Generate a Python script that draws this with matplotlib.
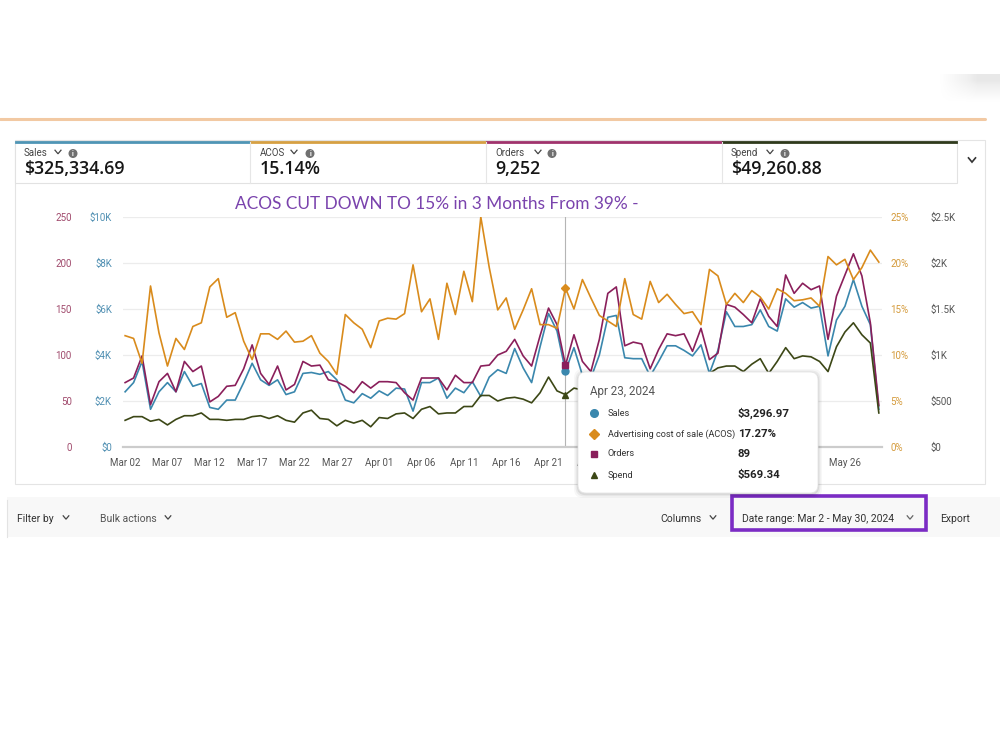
import matplotlib
matplotlib.use('Agg')
import matplotlib.pyplot as plt
import numpy as np
import pandas as pd
from matplotlib.patches import FancyBboxPatch, Rectangle, Ellipse
from matplotlib.lines import Line2D

# ---------------- data ----------------
dates = pd.date_range('2024-03-02', '2024-05-30', freq='D')

orders = [70, 75, 99, 46, 71, 80, 60, 93, 82, 88, 49, 55, 66, 67, 85, 111, 80, 68, 88, 62, 68, 93, 88,
          89, 73, 71, 66, 59, 71, 64, 71, 71, 70, 59, 51, 75, 75, 75, 62, 78, 70, 70, 88, 89,
          100, 104, 117, 99, 88, 121, 151, 133, 89, 122, 93, 82, 117, 167, 174, 110, 114, 112, 85, 106, 123, 121, 123, 104,
          129, 95, 102, 155, 152, 144, 135, 161, 142, 131, 187, 167, 178, 171, 175, 117, 164, 187, 210, 186, 135, 45]

sales = [2400, 2800, 3720, 1640, 2400, 2800, 2400, 3280, 2640, 2760, 1720, 1640, 2040, 2040, 2800, 3640, 2920, 2680, 2920, 2280, 2400, 3200, 3240,
         3160, 3280, 2920, 2040, 1920, 2320, 2120, 2440, 2240, 2560, 2520, 1560, 2800, 2800, 3000, 2120, 2560, 2360, 2840, 2200, 3040,
         3360, 3200, 4280, 3440, 2800, 4360, 5800, 5040, 3296.97, 4320, 3120, 3000, 4000, 5640, 5720, 3880, 3840, 3840, 3080, 3720, 4400, 4400, 4200, 3960,
         4440, 3200, 4200, 5880, 5240, 5240, 5320, 5960, 5240, 5040, 6440, 6080, 6280, 6040, 6120, 3960, 5520, 6120, 7280, 6120, 5320, 1640]

acos = [12.1, 11.8, 9.1, 17.5, 12.4, 8.8, 11.8, 10.6, 13.1, 13.5, 17.4, 18.3, 14.1, 14.6, 11.5, 9.5, 12.3, 12.3, 11.7, 12.6, 11.4, 11.5, 12.1,
        10.2, 9.3, 7.9, 14.4, 13.5, 12.8, 10.8, 13.7, 14.0, 13.9, 14.5, 19.8, 14.7, 16.1, 11.7, 17.8, 14.4, 19.1, 15.8, 25.0, 19.5,
        14.9, 16.2, 12.8, 14.9, 17.2, 13.3, 13.3, 12.9, 17.27, 15.0, 18.2, 16.2, 14.3, 13.7, 13.1, 18.3, 14.4, 13.9, 18.0, 15.7, 16.6, 15.5, 14.5, 14.7,
        13.3, 19.3, 18.6, 15.5, 16.7, 15.7, 17.0, 16.3, 15.0, 17.2, 16.7, 15.9, 16.0, 16.2, 15.3, 20.7, 19.8, 20.4, 18.2, 19.5, 21.4, 20.1]

spend = [290, 330, 330, 280, 300, 240, 300, 340, 340, 370, 300, 300, 290, 300, 300, 330, 340, 310, 340, 290, 270, 370, 400,
         310, 300, 230, 290, 260, 290, 220, 320, 310, 360, 370, 310, 410, 440, 360, 370, 370, 440, 440, 560, 560,
         500, 530, 540, 520, 480, 590, 760, 610, 569.34, 640, 620, 650, 700, 720, 680, 640, 700, 690, 660, 720, 750, 730, 700, 760,
         740, 800, 860, 880, 880, 820, 900, 960, 800, 930, 1080, 960, 990, 980, 930, 820, 1090, 1250, 1350, 1220, 1130, 370]

orders_ticks = [0, 50, 100, 150, 200, 250]
sales_ticks = [0, 2000, 4000, 6000, 8000, 10000]
sales_tick_labels = ['$0', '$2K', '$4K', '$6K', '$8K', '$10K']
acos_ticks = [0, 5, 10, 15, 20, 25]
acos_tick_labels = ['0%', '5%', '10%', '15%', '20%', '25%']
spend_ticks = [0, 500, 1000, 1500, 2000, 2500]
spend_tick_labels = ['$0', '$500', '$1K', '$1.5K', '$2K', '$2.5K']

card_labels = ['Sales', 'ACOS', 'Orders', 'Spend']
card_values = ['$325,334.69', '15.14%', '9,252', '$49,260.88']

hover_index = 52
tooltip_date = 'Apr 23, 2024'
tooltip_labels = ['Sales', 'Advertising cost of sale (ACOS)', 'Orders', 'Spend']
tooltip_values = ['$3,296.97', '17.27%', '89', '$569.34']

title_text = 'ACOS CUT DOWN TO 15% in 3 Months From 39% -'

# ---------------- style ----------------
C_SALES = '#3a87ad'
C_ACOS = '#d98b1c'
C_ORDERS = '#8a1f5b'
C_SPEND = '#3c4716'
FONT = ['Roboto', 'DejaVu Sans']

W, H = 1000, 750
def fx(x): return x / W
def fy(y): return 1 - y / H

fig = plt.figure(figsize=(10, 7.5), dpi=100)
fig.patch.set_facecolor('white')

# top-right faint shadow
gax = fig.add_axes([fx(940), fy(102), 60 / W, 28 / H])
gx = np.linspace(0, 1, 120)[None, :]
gy = np.linspace(1, 0, 40)[:, None]
g = np.clip(gx * 1.6, 0, 1) * np.clip(gy * 1.3, 0, 1)
gax.imshow(g, cmap='Greys', vmin=0, vmax=6, aspect='auto', interpolation='bilinear')
gax.axis('off')

# top orange rule
fig.add_artist(Line2D([0, fx(985)], [fy(119), fy(119)], color='#f2c9a3', lw=2.2, solid_capstyle='round'))

# chart panel (behind the axes)
fig.add_artist(Rectangle((fx(15), fy(484)), 970 / W, 344 / H, transform=fig.transFigure,
                         fc='white', ec='#e4e4e4', lw=0.8, zorder=-3))

# cards
fig.add_artist(Rectangle((fx(15), fy(183)), 942 / W, 42 / H, transform=fig.transFigure,
                         fc='white', ec='#e2e2e2', lw=0.8, zorder=-2))
card_x = [15, 250, 486, 722, 957]
card_bar_colors = ['#4f95b5', '#d6a043', '#a0336d', '#2f3a1c']
for i in range(4):
    fig.add_artist(Line2D([fx(card_x[i] + 1), fx(card_x[i + 1] - 1)], [fy(141.5)] * 2,
                          color=card_bar_colors[i], lw=2.0, zorder=2))
    if i > 0:
        fig.add_artist(Line2D([fx(card_x[i])] * 2, [fy(142), fy(183)], color='#e6e6e6', lw=0.8, zorder=2))

def chevron(x, y, s=3.0, color='#444444', lw=0.9):
    fig.add_artist(Line2D([fx(x - s), fx(x), fx(x + s)], [fy(y - s * 0.6), fy(y + s * 0.6), fy(y - s * 0.6)],
                          color=color, lw=lw, zorder=5, solid_joinstyle='miter'))

def info_icon(x, y):
    fig.add_artist(Ellipse((fx(x), fy(y)), 9 / W, 9 / H, transform=fig.transFigure,
                           fc='#707070', ec='none', zorder=5))
    fig.text(fx(x), fy(y), 'i', color='white', fontsize=5, fontweight='bold', ha='center', va='center',
             family=FONT, zorder=6)

label_x = [24, 260, 495, 731]
chev_x = [58, 294, 538, 770]
icon_x = [73, 310, 552, 785]
for i in range(4):
    fig.text(fx(label_x[i]), fy(153), card_labels[i], fontsize=7, color='#444444', va='center', ha='left', family=FONT)
    chevron(chev_x[i], 152)
    info_icon(icon_x[i], 153.5)
    fig.text(fx(label_x[i]), fy(169.5), card_values[i], fontsize=12.8, color='#161616', va='center', ha='left',
             fontweight='semibold', family=['Open Sans', 'DejaVu Sans'])
chevron(972, 160, s=3.5, color='#333333', lw=1.2)

# title
fig.text(fx(437), fy(204), title_text, fontsize=12.4, color='#7a43ad', ha='center', va='center',
         family=['Lato', 'DejaVu Sans'])

# ---------------- main chart ----------------
x0 = dates[0] - pd.Timedelta(hours=6)
x1 = dates[-1] + pd.Timedelta(hours=9)
pos = [fx(123), fy(447), 759 / W, 230 / H]

ax = fig.add_axes(pos)                 # sales axis (base)
ax_o = ax.twinx()                      # orders
ax_a = ax.twinx()                      # acos
ax_p = ax.twinx()                      # spend
for a in (ax, ax_o, ax_a, ax_p):
    a.patch.set_visible(False)
    for s in a.spines.values():
        s.set_visible(False)
    a.set_xlim(x0, x1)

ax.set_ylim(0, 10000)
ax_o.set_ylim(0, 250)
ax_a.set_ylim(0, 25)
ax_p.set_ylim(0, 2500)

ax.set_yticks(sales_ticks)
ax.set_yticklabels(sales_tick_labels)
ax.yaxis.tick_left()
ax.tick_params(axis='y', length=0, pad=8, labelsize=7, labelcolor='#4f8fb2')
ax.grid(axis='y', color='#ececec', lw=0.9)
ax.set_axisbelow(True)
ax.spines['bottom'].set_visible(True)
ax.spines['bottom'].set_color('#cccccc')
ax.spines['bottom'].set_linewidth(1.6)

ax_o.set_yticks(orders_ticks)
ax_o.yaxis.tick_left()
ax_o.tick_params(axis='y', length=0, pad=37, labelsize=7, labelcolor='#a04a6c')

ax_a.set_yticks(acos_ticks)
ax_a.set_yticklabels(acos_tick_labels)
ax_a.tick_params(axis='y', length=0, pad=6, labelsize=7, labelcolor='#d49a3a')

ax_p.set_yticks(spend_ticks)
ax_p.set_yticklabels(spend_tick_labels)
ax_p.tick_params(axis='y', length=0, pad=35, labelsize=7, labelcolor='#555555')

for a in (ax, ax_o, ax_a, ax_p):
    for lab in a.get_yticklabels():
        lab.set_family(FONT)

ax.set_xticks(dates[0:90:5])
ax.set_xticklabels([d.strftime('%b %d') for d in dates[0:90:5]], family=FONT)
ax.tick_params(axis='x', length=0, pad=8, labelsize=7, labelcolor='#555555')
for a in (ax_o, ax_a, ax_p):
    a.tick_params(axis='x', bottom=False, labelbottom=False)

lw = 1.2
ax.plot(dates, sales, color=C_SALES, lw=lw, zorder=3)
ax_o.plot(dates, orders, color=C_ORDERS, lw=lw, zorder=3)
ax_a.plot(dates, acos, color=C_ACOS, lw=lw, zorder=3)
ax_p.plot(dates, spend, color=C_SPEND, lw=lw, zorder=3)

hd = dates[hover_index]
ax.axvline(hd, color='#b5b5b5', lw=0.8, zorder=1)
ax.plot([hd], [sales[hover_index]], 'o', color=C_SALES, ms=5, zorder=5)
ax_o.plot([hd], [orders[hover_index]], 's', color=C_ORDERS, ms=4.5, zorder=5)
ax_a.plot([hd], [acos[hover_index]], 'D', color=C_ACOS, ms=4.5, zorder=5)
ax_p.plot([hd], [spend[hover_index]], '^', color=C_SPEND, ms=4.5, zorder=5)

# ---------------- tooltip ----------------
tx, ty, tw, th = 578, 372, 240, 121
for k, al in ((4, 0.03), (2.5, 0.05), (1.2, 0.07)):
    fig.add_artist(FancyBboxPatch((fx(tx - k), fy(ty + th + k + 1)), (tw + 2 * k) / W, (th + 2 * k) / H,
                                  boxstyle='round,pad=0,rounding_size=0.009', mutation_aspect=W / H,
                                  transform=fig.transFigure, fc='black', ec='none', alpha=al, zorder=9))
fig.add_artist(FancyBboxPatch((fx(tx), fy(ty + th)), tw / W, th / H,
                              boxstyle='round,pad=0,rounding_size=0.008', mutation_aspect=W / H,
                              transform=fig.transFigure, fc='white', ec='#e6e6e6', lw=0.6, zorder=10))
fig.text(fx(590), fy(391), tooltip_date, fontsize=8.4, color='#555555', va='center', ha='left',
         family=FONT, zorder=11)
row_y = [413, 434, 454, 475]
markers = ['o', 'D', 's', '^']
mcolors = [C_SALES, C_ACOS, C_ORDERS, C_SPEND]
msizes = [5.5, 5, 4.8, 5]
for i in range(4):
    fig.add_artist(Line2D([fx(594)], [fy(row_y[i])], marker=markers[i], color=mcolors[i], ms=msizes[i],
                          ls='none', zorder=11))
    fig.text(fx(608), fy(row_y[i]), tooltip_labels[i], fontsize=6.6, color='#333333', va='center', ha='left',
             family=FONT, zorder=11)
    fig.text(fx(738), fy(row_y[i]), tooltip_values[i], fontsize=8.2, color='#222222', va='center', ha='left',
             fontweight='bold', family=FONT, zorder=11)

# ---------------- toolbar ----------------
fig.add_artist(Rectangle((fx(7), fy(537)), 993 / W, 40 / H, transform=fig.transFigure,
                         fc='#f8f8f8', ec='none', zorder=-3))
fig.add_artist(Line2D([fx(7), fx(7)], [fy(500), fy(537)], color='#e3e3e3', lw=0.8, zorder=1))
tb_y = 518.5
fs_tb = 7.5
fig.text(fx(17), fy(tb_y), 'Filter by', fontsize=fs_tb, color='#333333', va='center', ha='left', family=FONT, zorder=5)
chevron(66, tb_y - 1, s=2.8)
fig.text(fx(100), fy(tb_y), 'Bulk actions', fontsize=fs_tb, color='#555555', va='center', ha='left', family=FONT, zorder=5)
chevron(168, tb_y - 1, s=2.8)
fig.text(fx(660), fy(tb_y), 'Columns', fontsize=fs_tb, color='#333333', va='center', ha='left', family=FONT, zorder=5)
chevron(713, tb_y - 1, s=2.8)
fig.text(fx(742), fy(tb_y), 'Date range: Mar 2 - May 30, 2024', fontsize=fs_tb, color='#333333', va='center',
         ha='left', family=FONT, zorder=5)
chevron(910, tb_y - 1, s=2.8, color='#666666')
fig.text(fx(940), fy(tb_y), 'Export', fontsize=fs_tb, color='#333333', va='center', ha='left', family=FONT, zorder=5)
fig.add_artist(Rectangle((fx(732), fy(530)), 194 / W, 34 / H, transform=fig.transFigure,
                         fc='none', ec='#7b2cc4', lw=2.6, zorder=6))

fig.savefig('out.png', dpi=100, facecolor='white')
